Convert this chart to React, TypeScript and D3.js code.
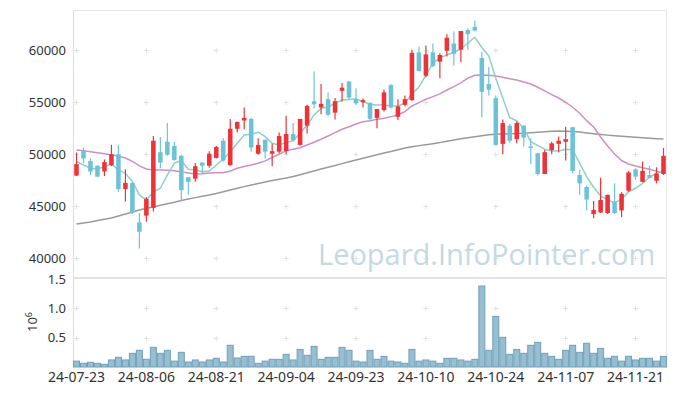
import * as d3 from "d3";

// trading days (yy-mm-dd)
const dates = [
  "24-07-23", "24-07-24", "24-07-25", "24-07-26", "24-07-29", "24-07-30", "24-07-31",
  "24-08-01", "24-08-02", "24-08-05", "24-08-06", "24-08-07", "24-08-08", "24-08-09",
  "24-08-12", "24-08-13", "24-08-14", "24-08-16", "24-08-19", "24-08-20", "24-08-21",
  "24-08-22", "24-08-23", "24-08-26", "24-08-27", "24-08-28", "24-08-29", "24-08-30",
  "24-09-02", "24-09-03", "24-09-04", "24-09-05", "24-09-06", "24-09-09", "24-09-10",
  "24-09-11", "24-09-12", "24-09-13", "24-09-19", "24-09-20", "24-09-23", "24-09-24",
  "24-09-25", "24-09-26", "24-09-27", "24-09-30", "24-10-02", "24-10-04", "24-10-07",
  "24-10-08", "24-10-10", "24-10-11", "24-10-14", "24-10-15", "24-10-16", "24-10-17",
  "24-10-18", "24-10-21", "24-10-22", "24-10-23", "24-10-24", "24-10-25", "24-10-28",
  "24-10-29", "24-10-30", "24-10-31", "24-11-01", "24-11-04", "24-11-05", "24-11-06",
  "24-11-07", "24-11-08", "24-11-11", "24-11-12", "24-11-13", "24-11-14", "24-11-15",
  "24-11-18", "24-11-19", "24-11-20", "24-11-21", "24-11-22", "24-11-25", "24-11-26",
  "24-11-27",
];

const opens = [
  47950, 50350, 49350, 48900, 48350, 48950, 50000, 46650, 47250, 43450,
  44100, 44850, 50200, 51200, 50800, 49850, 47800, 47650, 49200, 48900,
  49650, 51300, 48950, 52450, 53250, 53400, 50050, 51400, 50050, 50250,
  50300, 51950, 50900, 52750, 55100, 54500, 55300, 54000, 56100, 57000,
  55300, 55000, 54950, 53500, 54250, 56650, 53600, 54750, 55200, 59800,
  57550, 59800, 58900, 59950, 60650, 60050, 61950, 62250, 59250, 56750,
  55400, 51000, 52750, 51450, 52750, 50750, 50100, 48100, 50400, 51000,
  51200, 52600, 48000, 46850, 44250, 44400, 44350, 45450, 44600, 46500,
  48550, 47350, 48000, 47450, 48100,
];

const highs = [
  50150, 50650, 49600, 48950, 49500, 50900, 50900, 48550, 47250, 44350,
  45900, 51750, 51650, 53000, 51200, 49950, 47800, 49150, 49250, 50300,
  50800, 51550, 53400, 53150, 54500, 53500, 51550, 51400, 51000, 52100,
  53700, 53000, 53400, 54750, 57950, 56750, 55950, 55400, 56850, 57050,
  56350, 55350, 54950, 54350, 56200, 56750, 55300, 55650, 60050, 60350,
  60450, 60650, 59700, 61550, 61800, 61850, 62100, 62850, 59850, 58400,
  55650, 53350, 52900, 53150, 52800, 51550, 50150, 50400, 51200, 51700,
  52650, 52650, 48500, 47000, 45500, 47750, 46100, 47200, 46350, 48400,
  48650, 49300, 48900, 48750, 50600,
];

const lows = [
  47900, 49150, 48000, 47800, 47900, 48850, 46400, 45450, 44250, 40950,
  43500, 44500, 48650, 49850, 49400, 45500, 46100, 47350, 48150, 48700,
  49600, 49300, 48900, 52100, 52400, 50250, 49950, 49600, 48850, 50100,
  50000, 51200, 50850, 52000, 54400, 53850, 53700, 53350, 55050, 55300,
  54750, 54500, 53250, 52500, 54100, 54400, 53300, 54600, 55150, 57950,
  57400, 58400, 57300, 59400, 58500, 58850, 60050, 61800, 53550, 55650,
  50850, 50000, 51100, 51050, 50750, 49050, 47950, 48100, 50000, 50200,
  49400, 48150, 46100, 44600, 43850, 44350, 44250, 44250, 43950, 46400,
  47550, 47300, 47700, 47200, 48000,
];

const closes = [
  49050, 49600, 48350, 47850, 49250, 50000, 46650, 47250, 44400, 42550,
  45700, 51300, 49200, 49950, 49450, 46550, 47350, 48850, 48900, 50050,
  50700, 49400, 52450, 53100, 53500, 50650, 50900, 50250, 50300, 51750,
  51950, 51350, 53400, 54650, 54800, 54850, 53800, 55100, 56400, 55450,
  54900, 55200, 53400, 54350, 55950, 54500, 54600, 55300, 59750, 58000,
  59600, 58500, 59550, 61200, 59650, 61850, 61550, 61900, 56000, 56200,
  50900, 53000, 51300, 53000, 51600, 50650, 48100, 50200, 51050, 51300,
  51450, 48400, 47200, 45650, 44650, 45600, 46100, 44350, 46200, 48250,
  47850, 48400, 47750, 48150, 49850,
];

const volumes = [
  100000, 63000, 80000, 63000, 46000, 120000, 165000, 120000, 233000, 284000,
  131000, 335000, 233000, 284000, 100000, 250000, 85000, 120000, 85000, 120000,
  148000, 85000, 370000, 153000, 182000, 182000, 63000, 100000, 131000, 131000,
  216000, 120000, 300000, 199000, 352000, 131000, 165000, 165000, 335000, 284000,
  100000, 85000, 284000, 131000, 182000, 100000, 85000, 63000, 300000, 100000,
  120000, 100000, 63000, 148000, 148000, 120000, 100000, 131000, 1380000, 284000,
  864000, 506000, 216000, 300000, 233000, 370000, 420000, 233000, 182000, 131000,
  284000, 370000, 250000, 404000, 233000, 318000, 148000, 182000, 100000, 182000,
  120000, 148000, 148000, 100000, 182000,
];

// moving averages as drawn
const ma5 = [
  49290, 48970, 48650, 48590, 48810, 49050, 48490, 48170, 47370, 46090,
  45610, 46380, 46730, 48010, 49160, 49380, 48560, 48490, 48330, 48390,
  48970, 49520, 50250, 51060, 51860, 51920, 52120, 51690, 51060, 50890,
  51120, 51310, 52020, 52820, 53780, 54420, 54550, 54900, 55220, 55270,
  55320, 55060, 54810, 54740, 54740, 54640, 54640, 54900, 55800, 56470,
  57620, 58750, 59260, 59550, 59810, 60120, 60700, 61250, 60270, 59450,
  57310, 55410, 53540, 53200, 52500, 51210, 50850, 50480, 50320, 50320,
  50480, 50410, 49140, 47850, 46830, 45990, 45610, 45340, 45670, 46400,
  46730, 47210, 47790, 48170, 48440,
];

const ma20 = [
  50410, 50350, 50250, 50150, 50060, 49930, 49840, 49640, 49310, 48880,
  48590, 48490, 48490, 48460, 48420, 48330, 48200, 48110, 48130, 48200,
  48230, 48230, 48390, 48650, 48830, 48970, 49130, 49360, 49690, 50000,
  50350, 50480, 50630, 50890, 51150, 51440, 51760, 52080, 52400, 52650,
  52910, 53130, 53230, 53370, 53460, 53620, 53780, 54100, 54640, 54960,
  55290, 55540, 55800, 56180, 56500, 56860, 57310, 57600, 57630, 57600,
  57530, 57400, 57270, 57140, 56950, 56760, 56440, 56090, 55730, 55410,
  55000, 54520, 53940, 53230, 52620, 51660, 50800, 50030, 49400, 49070,
  48880, 48710, 48560, 48380, 48230,
];

const ma120 = [
  43300, 43390, 43490, 43630, 43750, 43880, 44070, 44260, 44450, 44640,
  44810, 44930, 45100, 45240, 45390, 45560, 45700, 45830, 45960, 46090,
  46230, 46390, 46570, 46730, 46890, 47050, 47190, 47340, 47480, 47600,
  47720, 47870, 48040, 48230, 48390, 48590, 48750, 48920, 49100, 49280,
  49450, 49620, 49790, 49950, 50130, 50270, 50430, 50610, 50730, 50830,
  50920, 51020, 51120, 51250, 51380, 51490, 51590, 51690, 51780, 51880,
  51920, 51950, 51970, 52000, 52020, 52070, 52120, 52160, 52210, 52240,
  52220, 52190, 52140, 52050, 51970, 51900, 51840, 51780, 51730, 51680,
  51630, 51590, 51540, 51500, 51470,
];

const priceTicks = [40000, 45000, 50000, 55000, 60000];
const volumeTicks = [500000, 1000000, 1500000];
const dateTickStep = 10;

const W = 677;
const H = 396;

export default function App() {
  const left = 73;
  const right = 667;
  const top = 10;
  const mainBottom = 277;
  const volTop = 279;
  const volBottom = 367;

  const idx = d3.range(dates.length);
  const x = d3
    .scaleBand<number>()
    .domain(idx)
    .range([left, right])
    .paddingInner(0.35)
    .paddingOuter(0.175);
  const xv = d3.scaleBand<number>().domain(idx).range([left, right]).padding(0);
  const cx = (i: number) => (x(i) as number) + x.bandwidth() / 2;

  const y = d3.scaleLinear().domain([38200, 63870]).range([mainBottom, top]);
  const yv = d3.scaleLinear().domain([0, 1500000]).range([volBottom, volTop]);

  const line = (vals: number[]) =>
    d3
      .line<number>()
      .x((_, i) => cx(i))
      .y((d) => y(d))(vals) as string;

  const dateTicks = idx.filter((i) => i % dateTickStep === 0);
  const font = "'Noto Sans', 'Open Sans', sans-serif";
  const up = "#ee3338";
  const down = "#6cc3d8";

  const cross = (px: number, py: number, key: string) => (
    <g key={key} stroke="#e0e0e0" strokeWidth={1}>
      <line x1={px - 2.5} x2={px + 2.5} y1={py} y2={py} />
      <line x1={px} x2={px} y1={py - 2.5} y2={py + 2.5} />
    </g>
  );

  return (
    <svg
      width={W}
      height={H}
      style={{ position: "absolute", left: 0, top: 0, background: "#fff" }}
      fontFamily={font}
    >
      {/* frame */}
      <line x1={left} x2={right} y1={top + 0.5} y2={top + 0.5} stroke="#e6e6e6" />
      <line x1={left + 0.5} x2={left + 0.5} y1={top} y2={volBottom} stroke="#dcdcdc" />
      <line x1={right - 0.5} x2={right - 0.5} y1={top} y2={volBottom} stroke="#e6e6e6" />
      <line x1={left} x2={right} y1={mainBottom + 1} y2={mainBottom + 1} stroke="#e3e3e3" strokeWidth={2} />

      {/* grid crosses */}
      {dateTicks.map((i) =>
        priceTicks.map((p) => cross(cx(i), Math.round(y(p)) + 0.5, `p${i}-${p}`))
      )}
      {dateTicks.map((i) =>
        volumeTicks.slice(0, 2).map((v) => cross(cx(i), Math.round(yv(v)) + 0.5, `v${i}-${v}`))
      )}

      {/* watermark */}
      <text x={318} y={265} fontSize={29} fontFamily="'Open Sans', sans-serif" fill="#c5d9e5">
        Leopard.InfoPointer.com
      </text>

      {/* volume */}
      {idx.map((i) => (
        <rect
          key={`vol${i}`}
          x={(xv(i) as number) + 0.5}
          y={yv(volumes[i])}
          width={xv.bandwidth() - 1}
          height={volBottom - yv(volumes[i])}
          fill="#98bfd1"
          stroke="#6f9fb9"
          strokeWidth={1}
        />
      ))}

      {/* moving averages */}
      <path d={line(ma120)} fill="none" stroke="#9a9a9a" strokeWidth={1.5} />
      <path d={line(ma20)} fill="none" stroke="#cc8fca" strokeWidth={1.5} />
      <path d={line(ma5)} fill="none" stroke="#8fd0c6" strokeWidth={1.5} />

      {/* candles */}
      {idx.map((i) => {
        const o = opens[i];
        const c = closes[i];
        const col = c >= o ? up : down;
        const yt = y(Math.max(o, c));
        const yb = y(Math.min(o, c));
        return (
          <g key={`c${i}`}>
            <line x1={cx(i)} x2={cx(i)} y1={y(highs[i])} y2={y(lows[i])} stroke={col} strokeWidth={1.2} />
            <rect x={x(i)} y={yt} width={x.bandwidth()} height={Math.max(1.5, yb - yt)} fill={col} />
          </g>
        );
      })}

      {/* price axis labels */}
      {priceTicks.map((p) => (
        <text key={`pl${p}`} x={66} y={y(p)} dy="0.35em" textAnchor="end" fontSize={13} fill="#333">
          {p}
        </text>
      ))}

      {/* volume axis labels */}
      {volumeTicks.map((v) => (
        <text key={`vl${v}`} x={66} y={yv(v)} dy="0.35em" textAnchor="end" fontSize={13} fill="#333">
          {(v / 1e6).toFixed(1)}
        </text>
      ))}
      <text transform="translate(37,322) rotate(-90)" textAnchor="middle" fontSize={13} fill="#333">
        10
        <tspan dy={-5} fontSize={9}>
          6
        </tspan>
      </text>

      {/* date labels */}
      {dateTicks.map((i) => (
        <text key={`d${i}`} x={cx(i)} y={382} textAnchor="middle" fontSize={14} fill="#333">
          {dates[i]}
        </text>
      ))}
    </svg>
  );
}
